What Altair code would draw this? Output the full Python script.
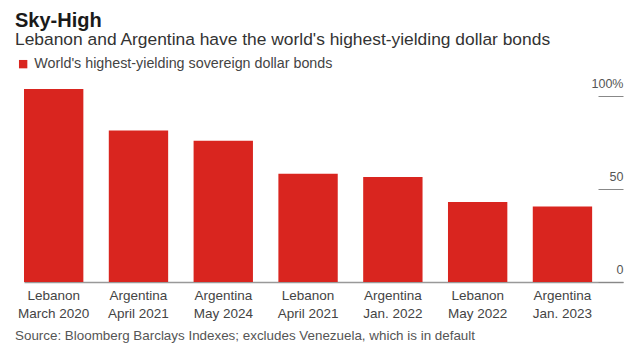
import altair as alt
import pandas as pd

countries = ["Lebanon", "Argentina", "Argentina", "Lebanon", "Argentina", "Lebanon", "Argentina"]
maturities = ["March 2020", "April 2021", "May 2024", "April 2021", "Jan. 2022", "May 2022", "Jan. 2023"]
values = [103.8, 81.4, 76.0, 58.2, 56.4, 43.0, 40.6]
series_name = "World's highest-yielding sovereign dollar bonds"
y_ticks = [0, 50, 100]
title_text = "Sky-High"
subtitle_text = "Lebanon and Argentina have the world's highest-yielding dollar bonds"
source_text = "Source: Bloomberg Barclays Indexes; excludes Venezuela, which is in default"

FONT = "Liberation Sans"
RED = "#d9251f"

df = pd.DataFrame({
    "bond": [f"{c}|{m}" for c, m in zip(countries, maturities)],
    "value": values,
    "series": [series_name] * len(values),
})
src = pd.DataFrame({"text": [source_text]})

W, H = 599, 186

bars = alt.Chart(df).mark_bar(color=RED).encode(
    x=alt.X(
        "bond:N",
        sort=None,
        scale=alt.Scale(paddingInner=0.3, paddingOuter=0.182, align=0),
        axis=alt.Axis(
            title=None,
            labelExpr="split(datum.value, '|')",
            labelAngle=0,
            labelFont=FONT,
            labelFontSize=13.5,
            labelColor="#444",
            labelLineHeight=18,
            labelPadding=6,
            labelBaseline="top",
            ticks=False,
            domain=True,
            domainColor="#999",
            domainWidth=1.5,
        ),
    ),
    y=alt.Y(
        "value:Q",
        scale=alt.Scale(domain=[0, 100], nice=False),
        axis=alt.Axis(
            title=None,
            orient="right",
            values=y_ticks,
            offset=-25,
            tickSize=25,
            tickColor="#888",
            tickWidth=1,
            domain=False,
            grid=False,
            labelAlign="right",
            labelPadding=0,
            labelBaseline="alphabetic",
            labelOffset=-9,
            labelFont=FONT,
            labelFontSize=12.5,
            labelColor="#555",
            labelExpr="datum.value == 100 ? '100%' : datum.label",
        ),
    ),
    color=alt.Color(
        "series:N",
        scale=alt.Scale(domain=[series_name], range=[RED]),
        legend=alt.Legend(
            title=None,
            orient="none",
            legendX=-8,
            legendY=-39,
            symbolType="square",
            symbolSize=70,
            symbolStrokeWidth=0,
            labelFont=FONT,
            labelFontSize=14.3,
            labelColor="#444",
            labelLimit=500,
            padding=0,
        ),
    ),
)

source = alt.Chart(src).mark_text(
    align="left", baseline="alphabetic", font=FONT, fontSize=13.4, color="#555"
).encode(
    x=alt.value(-9),
    y=alt.value(H + 58),
    text="text:N",
)

chart = alt.layer(bars, source).properties(
    width=W,
    height=H,
    autosize=alt.AutoSizeParams(type="none"),
    padding={"left": 24, "top": 96, "right": 11, "bottom": 70},
    title=alt.TitleParams(
        text=title_text,
        subtitle=subtitle_text,
        anchor="start",
        frame="group",
        dx=-9,
        font=FONT,
        fontSize=20,
        fontWeight="bold",
        color="#1a1a1a",
        subtitleFont=FONT,
        subtitleFontSize=17.4,
        subtitleColor="#333",
        subtitlePadding=0,
        offset=9,
    ),
).configure_view(stroke=None)

chart.save("out.html", embed_options={"renderer": "svg", "actions": False})
